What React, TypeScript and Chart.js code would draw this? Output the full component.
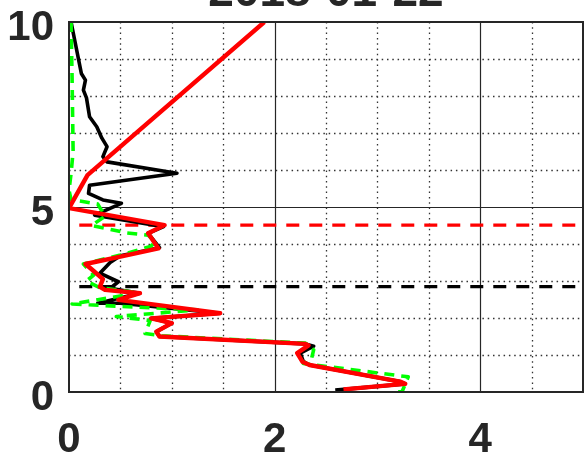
import React, { useEffect, useRef } from "react";
import { Chart, registerables } from "chart.js";

Chart.register(...registerables);

const titleText = "2018-01-22";
const xTickValues = [0, 2, 4];
const yTickValues = [0, 5, 10];
const xMinorGrid = [0.5, 1, 1.5, 2.5, 3, 3.5, 4.5];
const yMinorGrid = [1, 2, 3, 4, 6, 7, 8, 9];
const xMajorGrid = [2, 4];
const yMajorGrid = [5];

const blackX = [0.02, 0.12, 0.16, 0.14, 0.17, 0.2, 0.27, 0.32, 0.37, 0.33, 0.37, 1.05, 0.2, 0.19, 0.33, 0.51, 0.25, 0.92, 0.77, 0.88, 0.5, 0.4, 0.3, 0.48, 0.4, 0.69, 0.28, 0.5, 1.47, 0.8, 1.0, 0.85, 0.88, 2.3, 2.38, 2.25, 2.28, 2.34, 3.22, 3.27, 2.59];
const blackY = [10, 8.61, 8.43, 8.16, 7.95, 7.44, 7.17, 6.86, 6.63, 6.36, 6.22, 5.91, 5.59, 5.37, 5.19, 5.1, 4.78, 4.47, 4.29, 3.9, 3.68, 3.5, 3.21, 2.98, 2.8, 2.67, 2.4, 2.4, 2.13, 1.99, 1.86, 1.63, 1.5, 1.3, 1.24, 1.05, 0.82, 0.73, 0.28, 0.22, 0.05];

const redX = [1.9, 0.18, 0.0, 0.93, 0.77, 0.87, 0.5, 0.16, 0.24, 0.33, 0.3, 0.35, 0.69, 0.48, 1.47, 0.8, 1.0, 0.85, 0.88, 2.3, 2.33, 2.22, 2.27, 2.34, 3.22, 3.27, 2.67];
const redY = [10, 5.86, 4.97, 4.51, 4.29, 3.88, 3.66, 3.46, 3.27, 3.05, 2.84, 2.76, 2.67, 2.49, 2.13, 1.99, 1.86, 1.63, 1.5, 1.3, 1.26, 1.05, 0.82, 0.73, 0.28, 0.22, 0.07];

const greenX = [0.02, 0.03, 0.04, 0.02, 0.0, 0.02, 0.28, 0.35, 0.22, 0.56, 0.77, 0.84, 0.79, 0.5, 0.14, 0.24, 0.17, 0.3, 0.69, 0.03, 0.45, 1.25, 0.46, 0.79, 0.74, 0.9, 2.3, 2.38, 2.36, 2.28, 3.3, 3.24, 3.18];
const greenY = [10, 8.5, 6.5, 5.9, 5.45, 5.2, 5.08, 4.75, 4.5, 4.3, 4.24, 4.05, 3.93, 3.7, 3.46, 3.16, 3.0, 2.82, 2.68, 2.38, 2.32, 2.22, 2.04, 1.93, 1.58, 1.52, 1.32, 1.14, 0.91, 0.77, 0.41, 0.01, 0.0];

const redLevelX = [0.1, 5];
const redLevelY = [4.51, 4.51];
const blackLevelX = [0.1, 5];
const blackLevelY = [2.85, 2.85];

const toPoints = (xs: number[], ys: number[]) => xs.map((x, i) => ({ x, y: ys[i] }));

const FONT = '"Liberation Sans", Arial, Helvetica, sans-serif';
const TEXT_COLOR = "#262626";

const decorPlugin = {
  id: "decor",
  beforeDatasetsDraw(chart: any) {
    const { ctx, chartArea: a, scales } = chart;
    const xs = scales.x;
    const ys = scales.y;
    ctx.save();
    ctx.lineWidth = 1.3;
    ctx.strokeStyle = "#333";
    ctx.setLineDash([1.5, 3.8]);
    for (const v of xMinorGrid) {
      const px = Math.round(xs.getPixelForValue(v)) + 0.5;
      ctx.beginPath();
      ctx.moveTo(px, a.top);
      ctx.lineTo(px, a.bottom);
      ctx.stroke();
    }
    for (const v of yMinorGrid) {
      const py = Math.round(ys.getPixelForValue(v)) + 0.5;
      ctx.beginPath();
      ctx.moveTo(a.left, py);
      ctx.lineTo(a.right, py);
      ctx.stroke();
    }
    ctx.setLineDash([]);
    ctx.strokeStyle = "#262626";
    ctx.lineWidth = 1.2;
    for (const v of xMajorGrid) {
      const px = Math.round(xs.getPixelForValue(v)) + 0.5;
      ctx.beginPath();
      ctx.moveTo(px, a.top);
      ctx.lineTo(px, a.bottom);
      ctx.stroke();
    }
    for (const v of yMajorGrid) {
      const py = Math.round(ys.getPixelForValue(v)) + 0.5;
      ctx.beginPath();
      ctx.moveTo(a.left, py);
      ctx.lineTo(a.right, py);
      ctx.stroke();
    }
    ctx.restore();
  },
  afterDraw(chart: any) {
    const { ctx, chartArea: a, scales } = chart;
    const xs = scales.x;
    const ys = scales.y;
    ctx.save();
    ctx.strokeStyle = "#262626";
    ctx.lineWidth = 2;
    ctx.strokeRect(a.left, a.top, a.right - a.left, a.bottom - a.top);
    ctx.fillStyle = TEXT_COLOR;
    ctx.font = `bold 42px ${FONT}`;
    ctx.textBaseline = "alphabetic";
    ctx.textAlign = "right";
    for (const v of yTickValues) {
      const py = ys.getPixelForValue(v);
      ctx.fillText(String(v), a.left - 15, py + 18);
    }
    ctx.textAlign = "center";
    for (const v of xTickValues) {
      const px = xs.getPixelForValue(v);
      ctx.fillText(String(v), px, a.bottom + 60);
    }
    ctx.font = `bold 46px ${FONT}`;
    ctx.fillText(titleText, (a.left + a.right) / 2, 6);
    ctx.restore();
  },
};

export default function App() {
  const canvasRef = useRef<HTMLCanvasElement | null>(null);

  useEffect(() => {
    document.body.style.margin = "0";
    const canvas = canvasRef.current;
    if (!canvas) return;
    const line = (data: any, color: string, width: number, dash: number[] = []) => ({
      data,
      borderColor: color,
      backgroundColor: color,
      borderWidth: width,
      borderDash: dash,
      showLine: true,
      pointRadius: 0,
      pointHoverRadius: 0,
      fill: false,
      tension: 0,
      borderJoinStyle: "round",
      borderCapStyle: "butt",
    });
    // Chart.js paints the first dataset on top, so the red profile comes first.
    const chart = new Chart(canvas, {
      type: "scatter",
      data: {
        datasets: [
          line(toPoints(redX, redY), "#ff0000", 4.4),
          line(toPoints(greenX, greenY), "#00ff00", 3.6, [10, 7]),
          line(toPoints(blackX, blackY), "#000000", 3.6),
          line(toPoints(redLevelX, redLevelY), "#ff0000", 3.2, [13, 10]),
          line(toPoints(blackLevelX, blackLevelY), "#000000", 3.2, [13, 10]),
        ] as any,
      },
      options: {
        animation: false,
        responsive: false,
        maintainAspectRatio: false,
        layout: { padding: { left: 69, right: 1, top: 22, bottom: 64 } },
        plugins: { legend: { display: false }, tooltip: { enabled: false }, title: { display: false } },
        scales: {
          x: { type: "linear", min: 0, max: 5, display: false },
          y: { type: "linear", min: 0, max: 10, display: false },
        },
      } as any,
      plugins: [decorPlugin],
    });
    return () => chart.destroy();
  }, []);

  return (
    <div style={{ position: "fixed", left: 0, top: 0, width: 584, height: 456, background: "#fff" }}>
      <canvas ref={canvasRef} width={584} height={456} style={{ width: 584, height: 456, display: "block" }} />
    </div>
  );
}
